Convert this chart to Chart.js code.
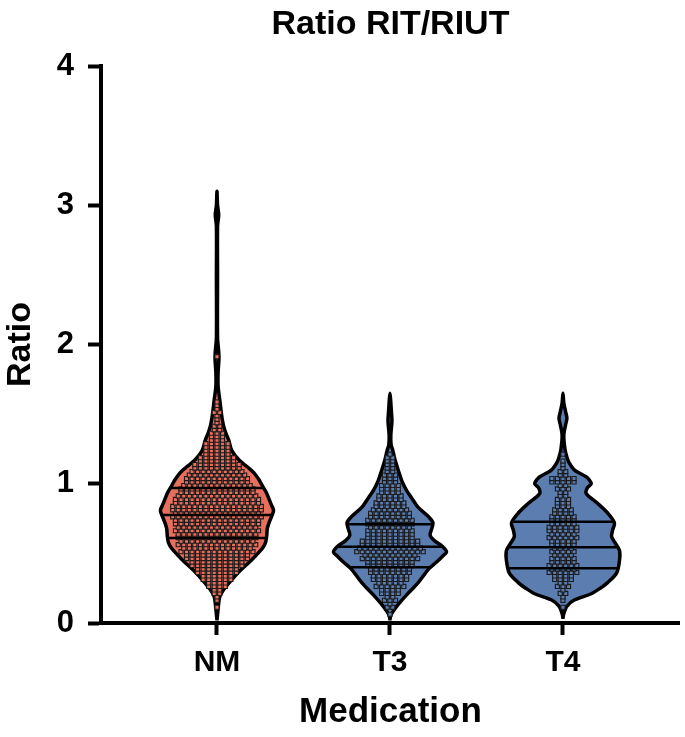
<!DOCTYPE html>
<html>
<head>
<meta charset="utf-8">
<script src="https://cdn.jsdelivr.net/npm/chart.js@4.4.1/dist/chart.umd.min.js"></script>
<style>
html, body { margin: 0; padding: 0; background: #fff; }
#wrap { width: 685px; height: 737px; }
</style>
</head>
<body>
<div id="wrap"><canvas id="ratioChart"></canvas></div>
<script>
var groups = ['NM', 'T3', 'T4'];
var yTicks = [0, 1, 2, 3, 4];

// violin outlines: ratio level + relative density (1 = widest)
var nmLevels  = [0.02, 0.06, 0.14, 0.19, 0.24, 0.31, 0.38, 0.44, 0.49, 0.54, 0.58, 0.63, 0.68, 0.73, 0.78, 0.81, 0.85, 0.88, 0.93, 0.98, 1.03, 1.08, 1.12, 1.17, 1.24, 1.31, 1.36, 1.41, 1.47, 1.53, 1.60, 1.70, 1.80, 1.90, 1.95, 2.05, 2.50, 2.85, 2.93, 3.00, 3.10];
var nmDensity = [0, 0.01, 0.03, 0.05, 0.12, 0.26, 0.42, 0.58, 0.70, 0.81, 0.86, 0.88, 0.89, 0.93, 0.98, 1.00, 0.96, 0.93, 0.88, 0.81, 0.74, 0.65, 0.54, 0.39, 0.26, 0.21, 0.16, 0.12, 0.09, 0.07, 0.05, 0.02, 0.02, 0.035, 0.03, 0.01, 0.01, 0.01, 0.03, 0.01, 0];

var t3Levels  = [0.02, 0.05, 0.08, 0.13, 0.20, 0.29, 0.39, 0.44, 0.48, 0.51, 0.55, 0.59, 0.63, 0.68, 0.72, 0.76, 0.83, 0.90, 0.955, 1.02, 1.08, 1.17, 1.24, 1.28, 1.35, 1.45, 1.52, 1.60, 1.65];
var t3Density = [0, 0.01, 0.05, 0.14, 0.29, 0.50, 0.69, 0.83, 0.93, 1.00, 0.93, 0.79, 0.71, 0.74, 0.76, 0.69, 0.50, 0.38, 0.29, 0.21, 0.16, 0.09, 0.05, 0.02, 0.015, 0.035, 0.025, 0.012, 0];

var t4Levels  = [0.03, 0.06, 0.12, 0.165, 0.21, 0.25, 0.29, 0.36, 0.45, 0.52, 0.57, 0.62, 0.67, 0.72, 0.79, 0.86, 0.93, 0.97, 1.00, 1.03, 1.05, 1.10, 1.15, 1.19, 1.25, 1.35, 1.42, 1.47, 1.52, 1.58, 1.65];
var t4Density = [0, 0.01, 0.07, 0.20, 0.50, 0.66, 0.79, 0.95, 1.00, 1.00, 0.93, 0.86, 0.88, 0.91, 0.79, 0.61, 0.41, 0.43, 0.50, 0.46, 0.41, 0.20, 0.11, 0.07, 0.035, 0.015, 0.045, 0.07, 0.045, 0.015, 0];

// quartiles (25%, median, 75%)
var nmQuartiles = [0.61, 0.776, 0.97];
var t3Quartiles = [0.40, 0.548, 0.71];
var t4Quartiles = [0.393, 0.544, 0.727];

// number of points in each 0.05 bin (bin start)
var binStarts = [0.05, 0.10, 0.15, 0.20, 0.25, 0.30, 0.35, 0.40, 0.45, 0.50, 0.55, 0.60, 0.65, 0.70, 0.75, 0.80, 0.85, 0.90, 0.95, 1.00, 1.05, 1.10, 1.15, 1.20, 1.25, 1.30, 1.35, 1.40, 1.45, 1.50, 1.55, 1.60, 1.65, 1.70, 1.75, 1.80, 1.85, 1.90];
var nmCounts = [0, 1, 2, 4, 8, 12, 16, 20, 24, 27, 29, 30, 31, 32, 33, 34, 32, 29, 27, 24, 21, 18, 14, 10, 10, 6, 5, 3, 2, 3, 2, 0, 0, 0, 0, 0, 0, 1];
var t3Counts = [1, 3, 5, 8, 11, 14, 16, 18, 21, 25, 22, 18, 17, 18, 16, 13, 11, 9, 8, 6, 5, 4, 4, 1, 0, 0, 0, 0, 0, 0, 0, 0, 0, 0, 0, 0, 0, 0];
var t4Counts = [0, 1, 2, 3, 5, 8, 11, 11, 9, 9, 10, 11, 12, 10, 9, 7, 6, 4, 5, 10, 4, 2, 1, 1, 0, 0, 0, 0, 0, 0, 0, 0, 0, 0, 0, 0, 0, 0];

var redFill = '#E76F5D';
var blueFill = '#5B7DB0';
var maxHalf = 0.327;  // widest half-violin, x units
var dotGap = 0.032;   // horizontal spacing of dots, x units

function outline(center, levels, dens) {
    var pts = [];
    for (var i = 0; i < levels.length; i++) {
        pts.push({x: center + dens[i] * maxHalf, y: levels[i]});
    }
    for (var j = levels.length - 2; j >= 0; j--) {
        pts.push({x: center - dens[j] * maxHalf, y: levels[j]});
    }
    return pts;
}

function halfAt(levels, dens, v) {
    for (var i = 1; i < levels.length; i++) {
        if (v <= levels[i]) {
            var t = (v - levels[i - 1]) / (levels[i] - levels[i - 1]);
            return (dens[i - 1] + t * (dens[i] - dens[i - 1])) * maxHalf;
        }
    }
    return 0;
}

function quartileLines(center, levels, dens, q) {
    var sets = [];
    for (var i = 0; i < q.length; i++) {
        var hw = halfAt(levels, dens, q[i]);
        sets.push({
            data: [{x: center - hw, y: q[i]}, {x: center + hw, y: q[i]}],
            showLine: true,
            borderColor: '#000',
            borderWidth: 2.5,
            pointRadius: 0,
            order: 1
        });
    }
    return sets;
}

function dots(center, counts) {
    var pts = [];
    for (var i = 0; i < binStarts.length; i++) {
        var n = counts[i];
        var rows = [[Math.ceil(n / 2), 0.0125], [Math.floor(n / 2), 0.0375]];
        rows.forEach(function(r) {
            for (var k = 0; k < r[0]; k++) {
                pts.push({x: center + (k - (r[0] - 1) / 2) * dotGap, y: binStarts[i] + r[1]});
            }
        });
    }
    return pts;
}

function violin(center, levels, dens, color) {
    return {
        data: outline(center, levels, dens),
        showLine: true,
        fill: 'shape',
        backgroundColor: color,
        borderColor: '#000',
        borderWidth: 3.5,
        tension: 0.3,
        pointRadius: 0,
        order: 3
    };
}

function dotSet(center, counts, color) {
    return {
        data: dots(center, counts),
        pointStyle: 'rect',
        pointRadius: 2.9,
        borderWidth: 1.1,
        borderColor: '#1a1a1a',
        backgroundColor: color,
        order: 2
    };
}

var datasets = [
    violin(1, nmLevels, nmDensity, redFill),
    violin(2, t3Levels, t3Density, blueFill),
    violin(3, t4Levels, t4Density, blueFill),
    dotSet(1, nmCounts, redFill),
    dotSet(2, t3Counts, blueFill),
    dotSet(3, t4Counts, blueFill)
].concat(quartileLines(1, nmLevels, nmDensity, nmQuartiles))
 .concat(quartileLines(2, t3Levels, t3Density, t3Quartiles))
 .concat(quartileLines(3, t4Levels, t4Density, t4Quartiles));

var fam = "'Liberation Sans', Arial, sans-serif";

var ctx = document.getElementById('ratioChart').getContext('2d');
var ratioChart = new Chart(ctx, {
    type: 'scatter',
    data: { datasets: datasets },
    options: {
        responsive: true,
        maintainAspectRatio: false,
        animation: false,
        events: [],
        layout: { padding: 0 },
        plugins: {
            legend: { display: false },
            tooltip: { enabled: false }
        },
        scales: {
            x: {
                type: 'linear',
                position: 'bottom',
                min: 0.3295,
                max: 3.676,
                afterBuildTicks: function(s) {
                    s.ticks = [{value: 1}, {value: 2}, {value: 3}];
                },
                ticks: {
                    callback: function(v) { return groups[v - 1]; },
                    font: { family: fam, size: 30, weight: 'bold' },
                    color: '#000',
                    padding: 10,
                    autoSkip: false,
                    maxRotation: 0
                },
                grid: { drawOnChartArea: false, drawTicks: true, tickLength: 12, tickWidth: 4, color: '#000' },
                border: { display: true, width: 4, color: '#000' },
                title: {
                    display: true,
                    text: 'Medication',
                    font: { family: fam, size: 35, weight: 'bold' },
                    color: '#000',
                    padding: { top: 0, bottom: 4 }
                },
                afterFit: function(s) { s.height = 114; }
            },
            xTop: {
                type: 'linear',
                axis: 'x',
                position: 'top',
                ticks: { display: false },
                grid: { display: false },
                border: { display: false },
                title: {
                    display: true,
                    text: 'Ratio RIT/RIUT',
                    font: { family: fam, size: 34, weight: 'bold' },
                    color: '#000',
                    padding: { top: 4, bottom: 0 }
                },
                afterFit: function(s) { s.height = 66; }
            },
            y: {
                min: 0,
                max: 4,
                afterBuildTicks: function(s) {
                    s.ticks = yTicks.map(function(v) { return {value: v}; });
                },
                ticks: {
                    font: { family: fam, size: 31, weight: 'bold' },
                    color: '#000',
                    padding: 14
                },
                grid: { drawOnChartArea: false, drawTicks: true, tickLength: 13, tickWidth: 4, color: '#000' },
                border: { display: true, width: 4, color: '#000' },
                title: {
                    display: true,
                    text: 'Ratio',
                    font: { family: fam, size: 34, weight: 'bold' },
                    color: '#000',
                    padding: { top: 0, bottom: 0 }
                },
                afterFit: function(s) { s.width = 101; }
            }
        }
    }
});
</script>
</body>
</html>
